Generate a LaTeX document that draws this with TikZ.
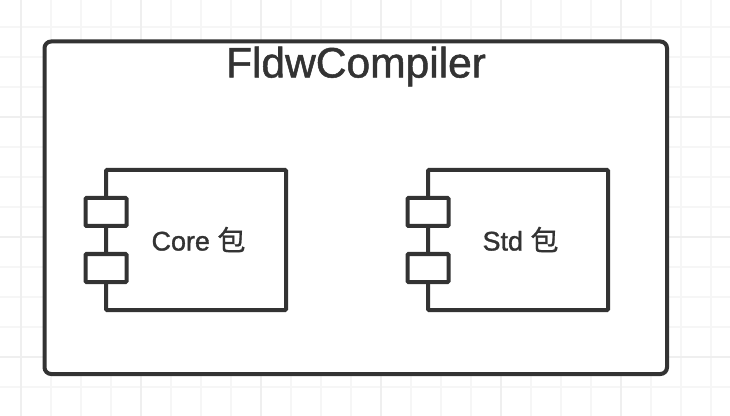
\documentclass[tikz,border=0pt]{standalone}
\usepackage{fontspec}
\setmainfont[FakeBold=1.2]{Liberation Sans}
\newfontfamily\cjk[FakeBold=0.8]{Noto Sans CJK SC}
\definecolor{inkdark}{HTML}{333333}
\definecolor{gridminor}{HTML}{F6F6F6}
\definecolor{gridmajor}{HTML}{EFEFEF}
\tikzset{
    outerbox/.style={draw=inkdark, fill=white, line width=3pt, rounded corners=5pt, minimum width=622.5\unitpx, minimum height=332.5\unitpx, inner sep=0pt},
    compbox/.style={draw=inkdark, fill=white, line width=3pt, rounded corners=0.8pt, minimum width=180\unitpx, minimum height=140\unitpx, inner sep=0pt},
    portbox/.style={draw=inkdark, fill=white, line width=3pt, rounded corners=0.8pt, minimum width=41\unitpx, minimum height=28\unitpx, inner sep=0pt},
    titletext/.style={text=inkdark, font=\fontsize{31.9}{36}\selectfont, inner sep=0pt},
    comptext/.style={text=inkdark, font=\fontsize{20.2}{24}\selectfont, inner sep=0pt}
}
\newcommand{\unitpx}{*0.75pt}
\begin{document}
\begin{tikzpicture}[x=0.75pt, y=-0.75pt]
    \useasboundingbox (0, 0) rectangle (730, 416);
    \fill[white] (0, 0) rectangle (730, 416);

    % Draw grid
    \foreach \gx in {21, 51, ..., 711} \draw[gridminor, line width=1.5pt] (\gx, 0) -- (\gx, 416);
    \foreach \gy in {27, 57, ..., 387} \draw[gridminor, line width=1.5pt] (0, \gy) -- (730, \gy);
    \foreach \gx in {21, 141, ..., 621} \draw[gridmajor, line width=1.5pt] (\gx, 0) -- (\gx, 416);
    \foreach \gy in {117, 237, 357} \draw[gridmajor, line width=1.5pt] (0, \gy) -- (730, \gy);

    % Draw outer box
    \node[outerbox] (compiler) at (355.75, 207.75) {};
    \node[titletext] (compilerlabel) at (356, 66.5) {FldwCompiler};

    % Draw Core component
    \node[compbox] (core) at (196, 240) {};
    \node[portbox] (coretop) at (106, 212) {};
    \node[portbox] (corebottom) at (106, 268) {};
    \node[comptext] (corelabel) at (198.5, 239.5) {Core {\cjk\fontsize{21}{24}\selectfont 包}};

    % Draw Std component
    \node[compbox] (std) at (518, 240) {};
    \node[portbox] (stdtop) at (428, 212) {};
    \node[portbox] (stdbottom) at (428, 268) {};
    \node[comptext] (stdlabel) at (520.5, 239.5) {Std {\cjk\fontsize{21}{24}\selectfont 包}};
\end{tikzpicture}
\end{document}
